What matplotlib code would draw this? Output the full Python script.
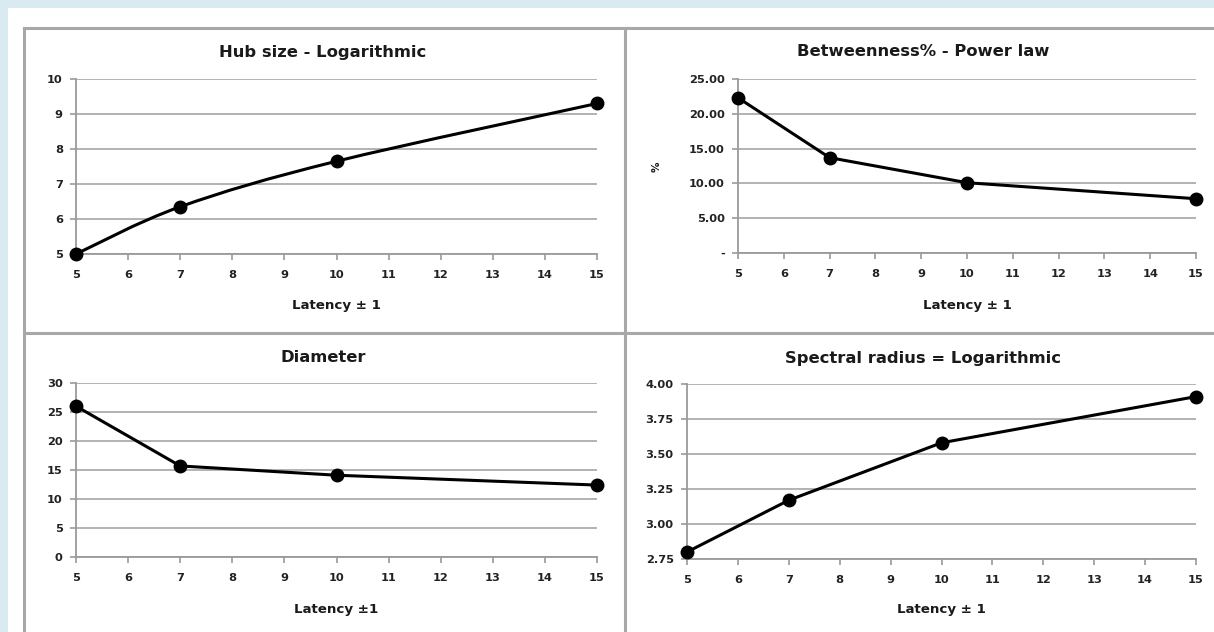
import matplotlib
matplotlib.use('Agg')
from matplotlib import pyplot as plt
from matplotlib.path import Path
from matplotlib.patches import PathPatch, Rectangle
from matplotlib.lines import Line2D

plt.rcParams['font.family'] = ['DejaVu Sans']

latency = [5, 7, 10, 15]
hub_size = [5.0, 6.35, 7.65, 9.3]
betweenness = [22.3, 13.7, 10.1, 7.8]
diameter = [26.0, 15.7, 14.1, 12.4]
spectral = [2.80, 3.17, 3.58, 3.91]

x_ticks = list(range(5, 16))

W, H = 1214, 632
fig = plt.figure(figsize=(W / 100, H / 100), dpi=100, facecolor='#d9ebf1')


def fx(px):
    return px / W


def fy(py):
    return 1 - py / H


# white page + panel frames
fig.patches.append(Rectangle((fx(8), 0), 1, fy(8), transform=fig.transFigure,
                             facecolor='white', edgecolor='none', zorder=-10))
frame = dict(transform=fig.transFigure, color='#a8a8a8', lw=2.2, zorder=-5)
fig.lines.append(Line2D([fx(24), 1], [fy(28), fy(28)], **frame))
fig.lines.append(Line2D([fx(24), fx(24)], [fy(28), 0], **frame))
fig.lines.append(Line2D([fx(624.5), fx(624.5)], [fy(28), 0], **frame))
fig.lines.append(Line2D([fx(24), 1], [fy(332.5), fy(332.5)], **frame))

tick_font = dict(fontweight='bold', fontsize=8.2)


def make_ax(left, right, top, bottom):
    ax = fig.add_axes([fx(left), fy(bottom), fx(right) - fx(left), fy(top) - fy(bottom)])
    ax.set_zorder(2)
    ax.set_facecolor('none')
    for s in ['top', 'right']:
        ax.spines[s].set_visible(False)
    for s in ['left', 'bottom']:
        ax.spines[s].set_color('#9a9a9a')
        ax.spines[s].set_linewidth(1.3)
    ax.grid(axis='y', color='#a6a6a6', lw=1.2)
    ax.set_axisbelow(True)
    ax.tick_params(axis='both', direction='out', length=4.5, width=1.2, color='#9a9a9a',
                   labelcolor='#222222')
    ax.tick_params(axis='x', pad=7)
    ax.tick_params(axis='y', pad=5)
    ax.set_xlim(5, 15)
    ax.set_xticks(x_ticks)
    ax.set_xticklabels([str(t) for t in x_ticks], **tick_font)
    return ax


def smooth_path(xs, ys):
    # Excel-style smoothed line: cubic Bezier through the points
    verts = [(xs[0], ys[0])]
    codes = [Path.MOVETO]
    n = len(xs)
    for i in range(n - 1):
        x0, y0 = (xs[i - 1], ys[i - 1]) if i > 0 else (xs[i], ys[i])
        x1, y1 = xs[i], ys[i]
        x2, y2 = xs[i + 1], ys[i + 1]
        x3, y3 = (xs[i + 2], ys[i + 2]) if i + 2 < n else (x2, y2)
        c1 = (x1 + (x2 - x0) / 6, y1 + (y2 - y0) / 6)
        c2 = (x2 - (x3 - x1) / 6, y2 - (y3 - y1) / 6)
        verts += [c1, c2, (x2, y2)]
        codes += [Path.CURVE4] * 3
    return Path(verts, codes)


title_kw = dict(fontsize=11.8, fontweight='bold', color='#1a1a1a', ha='center', va='center')
xlab_kw = dict(fontsize=9.6, fontweight='bold', color='#1a1a1a', ha='center', va='center')
mk = dict(marker='o', markersize=9, color='black', lw=2.2, clip_on=False, zorder=5)

# Hub size
ax1 = make_ax(76, 597, 79, 254)
ax1.set_ylim(5, 10)
ax1.set_yticks([5, 6, 7, 8, 9, 10])
ax1.set_yticklabels(['5', '6', '7', '8', '9', '10'], **tick_font)
ax1.add_patch(PathPatch(smooth_path(latency, hub_size), facecolor='none',
                        edgecolor='black', lw=2.2, clip_on=False, zorder=4))
ax1.plot(latency, hub_size, linestyle='none', marker='o', markersize=9, color='black',
         clip_on=False, zorder=5)
fig.text(fx(323), fy(52), 'Hub size - Logarithmic', **title_kw)
fig.text(fx(336), fy(305), 'Latency \u00b1 1', **xlab_kw)

# Betweenness
ax2 = make_ax(738, 1196, 79, 253)
ax2.set_ylim(0, 25)
ax2.set_yticks([0, 5, 10, 15, 20, 25])
ax2.set_yticklabels(['-', '5.00', '10.00', '15.00', '20.00', '25.00'], **tick_font)
ax2.plot(latency, betweenness, **mk)
fig.text(fx(923), fy(52), 'Betweenness% - Power law', **title_kw)
fig.text(fx(967), fy(305), 'Latency \u00b1 1', **xlab_kw)
fig.text(fx(657), fy(167), '%', rotation=90, fontsize=7.5, fontweight='bold',
         color='#1a1a1a', ha='center', va='center')

# Diameter
ax3 = make_ax(76, 597, 383, 557)
ax3.set_ylim(0, 30)
ax3.set_yticks([0, 5, 10, 15, 20, 25, 30])
ax3.set_yticklabels(['0', '5', '10', '15', '20', '25', '30'], **tick_font)
ax3.plot(latency, diameter, **mk)
fig.text(fx(323), fy(357), 'Diameter', **title_kw)
fig.text(fx(336), fy(609), 'Latency \u00b11', **xlab_kw)

# Spectral radius
ax4 = make_ax(687, 1196, 384, 559)
ax4.set_ylim(2.75, 4.0)
ax4.set_yticks([2.75, 3.0, 3.25, 3.5, 3.75, 4.0])
ax4.set_yticklabels(['2.75', '3.00', '3.25', '3.50', '3.75', '4.00'], **tick_font)
ax4.plot(latency, spectral, **mk)
fig.text(fx(923), fy(359), 'Spectral radius = Logarithmic', **title_kw)
fig.text(fx(941), fy(609), 'Latency \u00b1 1', **xlab_kw)

plt.savefig('out.png', dpi=100, facecolor=fig.get_facecolor())
